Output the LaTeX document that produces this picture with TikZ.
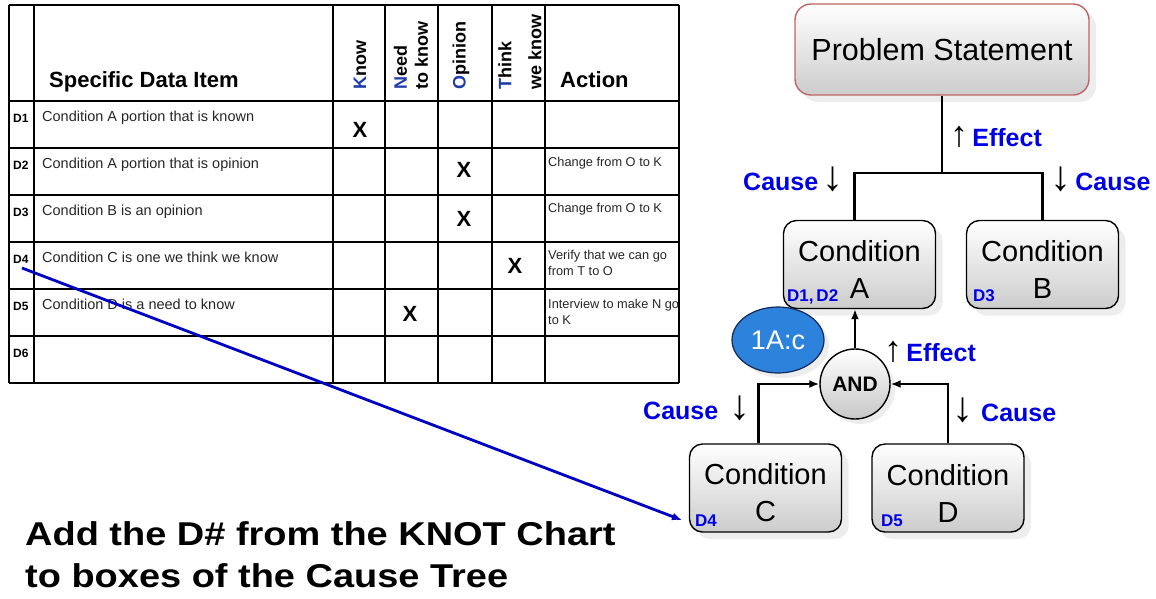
\documentclass[tikz,border=0pt]{standalone}
\usepackage{fontspec}
\setmainfont{Liberation Sans}
\newfontfamily\notefont[FakeStretch=1.15]{Liberation Sans}
\usetikzlibrary{arrows.meta,shapes.geometric,shadows}
\definecolor{causeblue}{RGB}{0,0,230}
\definecolor{knotblue}{RGB}{30,60,170}
\definecolor{ovalblue}{RGB}{45,130,220}
\definecolor{ovaledge}{RGB}{20,40,90}
\definecolor{psedge}{RGB}{190,100,100}
\newcommand\fsz[2]{\fontsize{#1}{#2}\selectfont}
\newcommand\effup{{\color{black}\fsz{36}{36}\char"2191}}
\newcommand\causedn{{\color{black}\fsz{42}{42}\char"2193}}
\newcommand\condtext[1]{\rule{0pt}{31pt}Condition\\#1}
\begin{document}
\begin{tikzpicture}[x=1pt, y=-1pt,
  grid/.style={line width=2.8pt},
  dlab/.style={anchor=base west, inner sep=0pt, font=\bfseries\fsz{12}{12}},
  cell/.style={anchor=base west, inner sep=0pt, text=black!85, font=\fsz{14.5}{16}},
  act/.style={anchor=base west, inner sep=0pt, align=left, text=black!85, font=\fsz{12.8}{16}},
  xmk/.style={inner sep=0pt, font=\bfseries\fsz{22}{22}},
  hdr/.style={anchor=base west, inner sep=0pt, font=\bfseries\fsz{22}{22}},
  knot/.style={rotate=90, anchor=west, inner sep=0pt, align=left, font=\bfseries\fsz{18}{21}},
  cond/.style={draw, line width=1.4pt, rounded corners=13pt, minimum width=152pt, minimum height=88pt,
    align=center, top color=white, bottom color=black!20, font=\fsz{29}{37},
    drop shadow={shadow xshift=7pt, shadow yshift=-7pt, fill=black!7, opacity=1}},
  tag/.style={anchor=base west, inner sep=0pt, text=causeblue, font=\bfseries\fsz{17}{17}},
  lbl/.style={anchor=base west, inner sep=0pt, text=causeblue, font=\bfseries\fsz{25}{25}},
  link/.style={line width=2.8pt},
  >={Latex[length=10pt,width=8pt]}]
\useasboundingbox (0,0) rectangle (1156,598);

% KNOT chart
\foreach \x in {9,34,333,385,438,492,545,679} \draw[grid] (\x,5) -- (\x,383);
\foreach \y in {5,101,148,195,242,289,336,383} \draw[grid] (9,\y) -- (679,\y);
\node[hdr] (item) at (49,87) {Specific Data Item};
\node[hdr] (action) at (560,87) {Action};
\node[knot] (know) at (360,90) {{\color{knotblue}K}now};
\node[knot] (need) at (411,90) {{\color{knotblue}N}eed\\to know};
\node[knot] (opin) at (461,90) {{\color{knotblue}O}pinion};
\node[knot] (think) at (520,90) {{\color{knotblue}T}hink\\[9pt]we know};
\foreach \y/\d/\t in {101/D1/Condition A portion that is known,
    148/D2/Condition A portion that is opinion,
    195/D3/Condition B is an opinion,
    242/D4/Condition C is one we think we know,
    289/D5/Condition D is a need to know,
    336/D6/} {
  \node[dlab] (lab\d) at (13,{\y+21}) {\d};
  \node[cell] (txt\d) at (42,{\y+20}) {\t};
}
\node[xmk] (x1) at (360,130) {X};
\node[xmk] (x2) at (464,170) {X};
\node[xmk] (x3) at (464,219) {X};
\node[xmk] (x4) at (515,266) {X};
\node[xmk] (x5) at (410,314) {X};
\node[act] (act2) at (548,166) {Change from O to K};
\node[act] (act3) at (548,212) {Change from O to K};
\node[act] (act4) at (548,275) {Verify that we can go\\from T to O};
\node[act] (act5) at (548,324) {Interview to make N go\\to K};

% cause tree
\node[cond, draw=psedge, minimum width=294pt, minimum height=91pt, rounded corners=16pt, font=\fsz{30.5}{30}]
  (ps) at (942,49.5) {Problem Statement};
\node[cond] (ca) at (859.5,264.5) {\condtext{A}};
\node[cond] (cb) at (1042.5,264.5) {\condtext{B}};
\node[cond] (cc) at (765.5,488) {\condtext{C}};
\node[cond] (cd) at (948,488) {\condtext{D}};
\node[tag] (t12) at (787,301) {D1,\,D2};
\node[tag] (t3) at (973,301) {D3};
\node[tag] (t4) at (695,526) {D4};
\node[tag] (t5) at (881,526) {D5};
\node[circle, draw, line width=1.4pt, minimum size=70pt, top color=white, bottom color=black!22,
  font=\bfseries\fsz{21}{21}, drop shadow={shadow xshift=5pt, shadow yshift=-5pt, fill=black!7, opacity=1}]
  (and) at (855,384) {AND};
\node[ellipse, draw=ovaledge, line width=1.2pt, fill=ovalblue, minimum width=92pt, minimum height=66pt,
  text=white, font=\fsz{27}{27}, drop shadow={shadow xshift=5pt, shadow yshift=-5pt, fill=black!7, opacity=1}]
  (oval) at (778,340) {1A:c};
\coordinate (bar) at (942,173);
\draw[link] (ps) -- (bar);
\draw[link] ([xshift=-5pt]ca.north) |- (bar) -| (cb.north);
\draw[link, ->] (and) -- (and |- ca.south);
\draw[link, ->] ([xshift=-7pt]cc.north) |- (and);
\draw[link, ->, >={Latex[length=10pt,width=8pt,fill=gray]}] (cd.north) |- (and);
\node[lbl] (eff1) at (950,146) {\effup\,Effect};
\node[lbl] (eff2) at (884,361) {\effup\,Effect};
\node[lbl] (cause1) at (743,190) {Cause\,\causedn};
\node[lbl] (cause2) at (1050,190) {\causedn\,Cause};
\node[lbl] (cause3) at (643,419) {Cause\hspace{11pt}\causedn};
\node[lbl] (cause4) at (952,421) {\causedn\hspace{8pt}Cause};

% D4 pointer
\coordinate (d4dot) at (22,268);
\draw[line width=2.8pt, causeblue!85!black, ->] (d4dot) -- ([xshift=-13pt]t4.west);

\node[anchor=base west, align=left, inner sep=0pt, font=\notefont\bfseries\fsz{33}{42}] (note) at (25,587)
  {Add the D\# from the KNOT Chart\\to boxes of the Cause Tree};
\end{tikzpicture}
\end{document}
